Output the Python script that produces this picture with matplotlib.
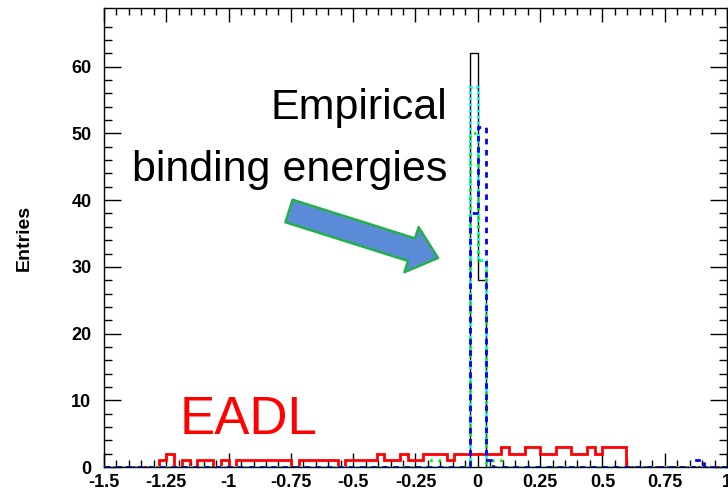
import numpy as np
import matplotlib
matplotlib.use("Agg")
import matplotlib.pyplot as plt
from matplotlib.patches import FancyArrowPatch

plt.rcParams['font.family'] = ['Liberation Sans', 'DejaVu Sans']

# 80 bins from -1.5 to 1.0
bin_lo, bin_hi, n_bins = -1.5, 1.0, 80
edges = np.linspace(bin_lo, bin_hi, n_bins + 1)

# EADL (red): bin index -> entries
eadl_bins = {7: 1, 8: 2, 10: 1, 12: 1, 13: 1, 15: 1,
             17: 1, 18: 1, 19: 1, 20: 1, 21: 1, 22: 1, 23: 1,
             25: 1, 26: 1, 27: 1, 28: 1, 29: 1,
             31: 1, 32: 1, 33: 1, 34: 1, 35: 2, 36: 1, 37: 1, 38: 2,
             39: 1, 40: 1, 41: 2, 42: 2, 43: 2, 44: 1,
             45: 2, 46: 2, 47: 2, 48: 2, 49: 2, 50: 2, 51: 3, 52: 2, 53: 2,
             54: 3, 55: 3, 56: 2, 57: 2, 58: 3, 59: 3, 60: 2, 61: 2,
             62: 3, 63: 2, 64: 3, 65: 3, 66: 3}
# empirical binding energies, several variants
black_bins = {47: 62, 48: 28}
cyan_bins = {47: 57, 48: 31}
green_bins = {42: 1, 47: 50, 48: 31, 50: 1}
blue_bins = {47: 38, 48: 51, 49: 1, 76: 1}

x_ticks = [-1.5, -1.25, -1, -0.75, -0.5, -0.25, 0, 0.25, 0.5, 0.75, 1]
x_tick_labels = ["-1.5", "-1.25", "-1", "-0.75", "-0.5", "-0.25", "0", "0.25", "0.5", "0.75", "1"]
y_ticks = [0, 10, 20, 30, 40, 50, 60]


def fill(bins):
    h = np.zeros(n_bins)
    for k, v in bins.items():
        h[k] = v
    return h


fig = plt.figure(figsize=(7.28, 4.91), dpi=100)
ax = fig.add_axes([104 / 728, 1 - 467 / 491, 623 / 728, 459 / 491])

ax.stairs(fill(eadl_bins), edges, color="red", lw=2.0, zorder=2)
ax.stairs(fill(black_bins), edges, color="black", lw=1.0, zorder=3)
ax.stairs(fill(cyan_bins), edges, color="cyan", lw=2.0, ls=(0, (1, 1.2)), zorder=4)
ax.stairs(fill(green_bins), edges, color="#00ee00", lw=1.8, ls=(0, (1, 2.5)), zorder=4)
ax.stairs(fill(blue_bins), edges, color="blue", lw=2.0, ls=(0, (2, 2)), zorder=5)

ax.set_xlim(bin_lo, bin_hi)
ax.set_ylim(0, 68.8)
ax.set_xticks(x_ticks)
ax.set_xticklabels(x_tick_labels)
ax.set_yticks(y_ticks)
ax.set_xticks(np.arange(-1.5, 1.0001, 0.05), minor=True)
ax.set_yticks(np.arange(0, 68, 2), minor=True)
ax.tick_params(which="both", direction="in", top=True, right=True, width=1)
ax.tick_params(which="major", axis="x", length=10, pad=5)
ax.tick_params(which="minor", axis="x", length=5)
ax.tick_params(which="major", axis="y", length=12, pad=9)
ax.tick_params(which="minor", axis="y", length=6)
for lab in ax.get_xticklabels() + ax.get_yticklabels():
    lab.set_fontweight("bold")
    lab.set_fontsize(13)
for s in ax.spines.values():
    s.set_linewidth(1)

ax.set_ylabel("Entries", fontsize=14, fontweight="bold", labelpad=28)

fig.text(447 / 728, 1 - 108 / 491, "Empirical", fontsize=31, ha="right", va="center")
fig.text(447 / 728, 1 - 170 / 491, "binding energies", fontsize=31, ha="right", va="center")
fig.text(180 / 728, 1 - 420 / 491, "EADL", fontsize=38, color="red", ha="left", va="center")

arrow = FancyArrowPatch((289 / 728, 1 - 211 / 491), (438 / 728, 1 - 258 / 491),
                        transform=fig.transFigure,
                        arrowstyle="simple,head_length=20,head_width=34,tail_width=17",
                        mutation_scale=1, fc="#5b8bd6", ec="#22b04a", lw=1.8,
                        shrinkA=0, shrinkB=0, zorder=10)
fig.patches.append(arrow)

fig.savefig("out.png", dpi=100)
